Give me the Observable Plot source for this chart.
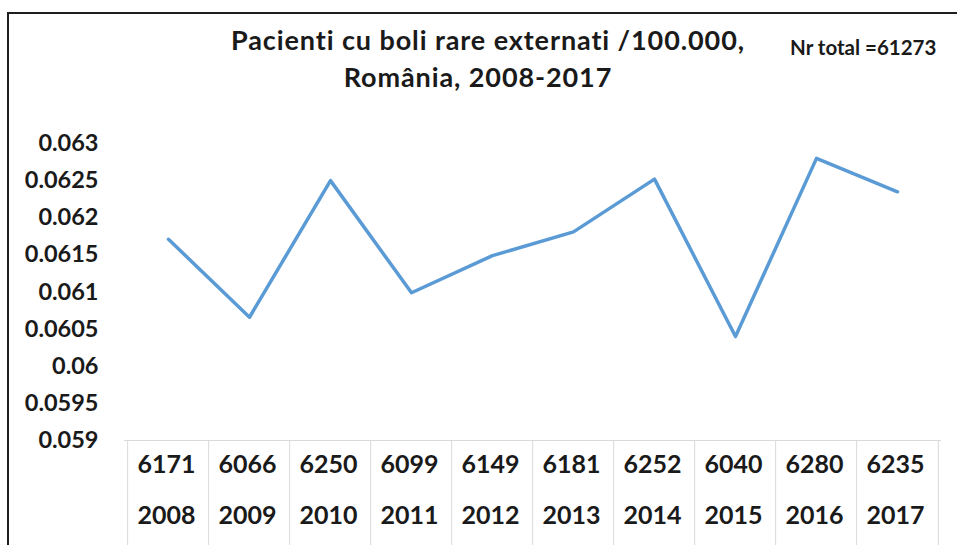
<!DOCTYPE html>
<html>
<head>
<meta charset="utf-8">
<script src="https://cdn.jsdelivr.net/npm/d3@7"></script>
<script src="https://cdn.jsdelivr.net/npm/@observablehq/plot@0.6"></script>
<style>
  body { margin: 0; background: #fff; }
  #wrap { position: relative; width: 957px; height: 545px; overflow: hidden; font-family: Lato, "Open Sans", sans-serif; color: #1a1a1a; background: #fff; }
  #frame { position: absolute; left: 7px; top: 12px; width: 980px; height: 560px; border-left: 2px solid #1e1e1e; border-top: 2px solid #1e1e1e; }
  .tl { position: absolute; text-align: center; font-weight: 700; font-size: 27px; line-height: 37px; letter-spacing: 0.9px; z-index: 2; white-space: nowrap; }
  #t1 { left: 0; width: 976px; top: 21px; }
  #t2 { left: 0; width: 956px; top: 58px; }
  #total { position: absolute; left: 790px; top: 35px; font-weight: 700; font-size: 20.5px; line-height: 24px; z-index: 2; white-space: nowrap; }
  #chart { position: absolute; left: 0; top: 0; }
</style>
</head>
<body>
<div id="wrap">
  <div id="frame"></div>
  <div id="chart"></div>
  <div class="tl" id="t1">Pacienti cu boli rare externati /100.000,</div>
  <div class="tl" id="t2">România, 2008-2017</div>
  <div id="total">Nr total =61273</div>
</div>
<script>
const years  = ["2008", "2009", "2010", "2011", "2012", "2013", "2014", "2015", "2016", "2017"];
const counts = ["6171", "6066", "6250", "6099", "6149", "6181", "6252", "6040", "6280", "6235"];
const rates  = [0.06171, 0.06066, 0.0625, 0.06099, 0.06149, 0.06181, 0.06252, 0.0604, 0.0628, 0.06235];
const yTicks = [0.059, 0.0595, 0.06, 0.0605, 0.061, 0.0615, 0.062, 0.0625, 0.063];

const data = years.map((y, i) => ({year: y, rate: rates[i], count: counts[i]}));

const W = 957, H = 545, ML = 124, MR = 16, MT = 143, MB = 105;
const step = (W - ML - MR) / years.length;
const gridColor = "#d9d9d9";

const chart = Plot.plot({
  width: W,
  height: H,
  marginLeft: ML,
  marginRight: MR,
  marginTop: MT,
  marginBottom: MB,
  style: {fontFamily: "Lato, 'Open Sans', sans-serif", fontWeight: "bold", color: "#1a1a1a", background: "transparent", overflow: "visible"},
  x: {type: "point", domain: years, padding: 0.5, align: 0.5, axis: null},
  y: {domain: [yTicks[0], yTicks[yTicks.length - 1]], axis: null},
  marks: [
    Plot.ruleY([yTicks[0]], {stroke: gridColor, strokeWidth: 1}),
    Plot.ruleX(years, {x: d => d, dx: -step / 2, stroke: gridColor, strokeWidth: 1, insetTop: H - MT - MB, insetBottom: -MB}),
    Plot.ruleX([years[years.length - 1]], {x: d => d, dx: step / 2, stroke: gridColor, strokeWidth: 1, insetTop: H - MT - MB, insetBottom: -MB}),
    Plot.axisY(yTicks, {tickSize: 0, tickPadding: 26, fontSize: 23.5, fontWeight: 700, label: null, tickFormat: d => String(d)}),
    Plot.line(data, {x: "year", y: "rate", stroke: "#5b9bd5", strokeWidth: 3.5, strokeLinejoin: "round", strokeLinecap: "round"}),
    Plot.text(data, {x: "year", text: "count", frameAnchor: "bottom", dy: 32, dx: -2, fontSize: 25, fontWeight: 700, fill: "#1a1a1a"}),
    Plot.text(data, {x: "year", text: "year", frameAnchor: "bottom", dy: 83, dx: -2, fontSize: 25, fontWeight: 700, fill: "#1a1a1a"})
  ]
});
document.getElementById("chart").appendChild(chart);
</script>
</body>
</html>
